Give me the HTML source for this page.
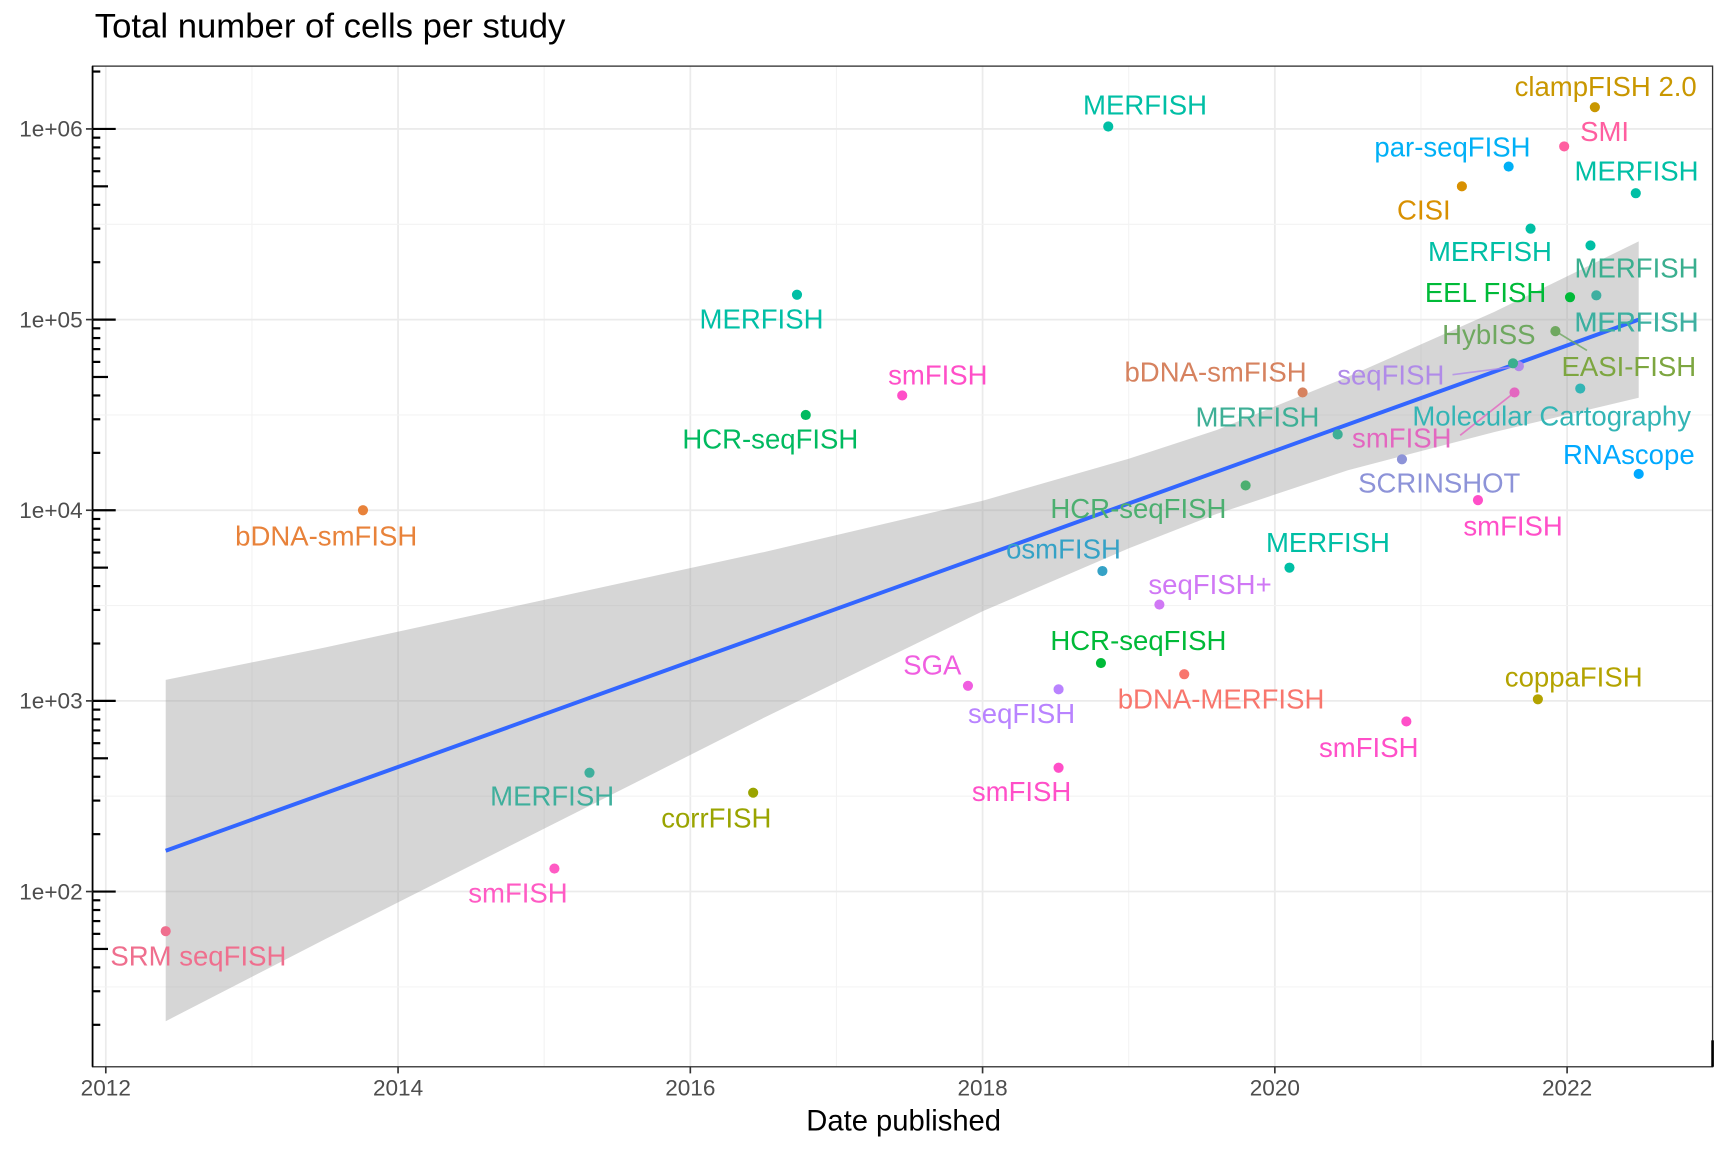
<!DOCTYPE html>
<html><head><meta charset="utf-8"><style>
html,body{margin:0;padding:0;background:#fff}
svg{display:block;font-family:"Liberation Sans",Arial,sans-serif}
</style></head><body>
<svg id="chart" width="1728" height="1152" viewBox="0 0 1568 1045.33" xmlns="http://www.w3.org/2000/svg">
<rect width="1568" height="1045.33" fill="#fff"/>
<text x="86" y="34" font-size="31.5" fill="#000">Total number of cells per study</text>
<g id="grid"></g>
<g id="band"></g>
<g id="segs"></g>
<g id="pts"></g>
<g id="labs"></g>
<g id="axes"></g>
<text x="820" y="1026" font-size="26.5" text-anchor="middle" fill="#000">Date published</text>
</svg>
<script>
// ---- data ----
const methods = ["SRM seqFISH","bDNA-smFISH","smFISH","MERFISH","corrFISH","MERFISH","HCR-seqFISH","smFISH","SGA","smFISH","seqFISH","HCR-seqFISH","osmFISH","MERFISH","seqFISH+","bDNA-MERFISH","HCR-seqFISH","MERFISH","bDNA-smFISH","MERFISH","SCRINSHOT","smFISH","smFISH","CISI","par-seqFISH","MERFISH","seqFISH","MERFISH","smFISH","HybISS","EEL FISH","SMI","clampFISH 2.0","MERFISH","MERFISH","MERFISH","Molecular Cartography","RNAscope","coppaFISH"];
const years = [2012.41,2013.76,2015.07,2015.31,2016.43,2016.73,2016.79,2017.45,2017.90,2018.52,2018.52,2018.81,2018.82,2018.86,2019.21,2019.38,2019.80,2020.10,2020.19,2020.43,2020.87,2020.90,2021.39,2021.28,2021.60,2021.75,2021.67,2021.63,2021.64,2021.92,2022.02,2021.98,2022.19,2022.47,2022.16,2022.20,2022.09,2022.49,2021.80];
const cells = [62,10000,132,420,330,135000,31600,40000,1200,446,1150,1580,4800,1030000,3200,1380,13500,5000,41500,25000,18500,780,11300,500000,635000,300000,57000,59000,41500,87000,131000,810000,1300000,460000,245000,134000,43500,15500,1020];
const colors = ["#EF6F8E","#E8823A","#FF5BC4","#3FAF9C","#9AA400","#00BFA5","#00BA5F","#FF4FC8","#F05EE0","#FF4FC8","#B983FF","#00BA38","#35A2C6","#00BFA5","#D078F5","#F8766D","#4CAF70","#00BFA5","#D6825F","#3EAF96","#8D93D8","#FF4FC8","#FF4FC8","#D89000","#00B0F6","#00BFA5","#B08BE8","#3AAF8F","#E367C0","#6FA860","#00BA38","#FF5EA0","#C99700","#00BFA5","#00BFA5","#3EAFA0","#33B5B5","#00A9FF","#B3A300"];
const ribbonYears = [2012.41,2013.5,2015,2016.5,2018,2019,2019.6,2020.5,2021.5,2022.49];
const ribbonUpperLog = [3.11,3.28,3.53,3.78,4.05,4.27,4.42,4.70,5.04,5.41];
const ribbonLowerLog = [1.32,1.75,2.33,2.91,3.47,3.80,3.98,4.21,4.41,4.59];
const fitYears = [2012.41,2022.49];
const fitLog = [2.214,5.0];
const xTicks = [2012,2014,2016,2018,2020,2022];
const yTicks = [2,3,4,5,6];
const yTickLabels = ["1e+02","1e+03","1e+04","1e+05","1e+06"];

// ---- scales ----
const L=84,R=1554,T=60,B=968;
const X=y=>96+(y-2012)*132.6;
const YL=l=>117+(6-l)*173;
const Y=v=>YL(Math.log10(v));
const NS="http://www.w3.org/2000/svg";
function mk(tag,attrs,parent){const e=document.createElementNS(NS,tag);for(const k in attrs)e.setAttribute(k,attrs[k]);parent.appendChild(e);return e;}

const labelPos = [[180,867],[296,486],[470,810],[501,722],[650,742],[691,289],[699,398],[851,340],[846,603],[927,718],[927,647],[1033,581],[965,498],[1039,95],[1098,530],[1108,634],[1033,461],[1205,492],[1103,337],[1141,378],[1306,438],[1242,678],[1373,477],[1292,190],[1318,133],[1352,228],[1262,340],[1485,243],[1272,397],[1351,303],[1348,265],[1456,119],[1457,78],[1485,155],[1485,292],[1485,292],[1408,377],[1478,412],[1428,614]];

// ---- grid ----
const grid=document.getElementById('grid');
mk('rect',{x:L,y:T,width:R-L,height:B-T,fill:'#fff'},grid);
for(let yr=2012;yr<=2022;yr++){const l=mk('line',{x1:X(yr),x2:X(yr),y1:T,y2:B,stroke:yr%2?'#f3f3f3':'#ebebeb','stroke-width':yr%2?1:1.6},grid);

}
for(let k=1.5;k<=6.5;k+=0.5){const yy=YL(k);if(yy<T||yy>B)continue;const major=Number.isInteger(k);const l=mk('line',{x1:L,x2:R,y1:yy,y2:yy,stroke:major?'#ebebeb':'#f3f3f3','stroke-width':major?1.6:1},grid);

}

// ---- ribbon + fit ----
const band=document.getElementById('band');
let d='M'+ribbonYears.map((t,i)=>X(t)+','+YL(ribbonUpperLog[i])).join('L');
for(let i=ribbonYears.length-1;i>=0;i--)d+='L'+X(ribbonYears[i])+','+YL(ribbonLowerLog[i]);
const rb=mk('path',{d:d+'Z',fill:'#999','fill-opacity':0.4},band);


const fl=mk('line',{x1:X(fitYears[0]),y1:YL(fitLog[0]),x2:X(fitYears[1]),y2:YL(fitLog[1]),stroke:'#3366FF','stroke-width':3.6},band);



// ---- segments ----
const segs=document.getElementById('segs');
[[26,1318,340],[28,1325,395],[29,1440,318]].forEach(s=>{const i=s[0];const l=mk('line',{x1:X(years[i]),y1:Y(cells[i]),x2:s[1],y2:s[2],stroke:colors[i],'stroke-width':1.5,'stroke-opacity':0.8},segs);

});

// ---- points & labels ----
const pts=document.getElementById('pts'),labs=document.getElementById('labs');
methods.forEach((m,i)=>{
 const c=mk('circle',{cx:X(years[i]),cy:Y(cells[i]),r:4.6,fill:colors[i]},pts);
 
 
 const t=mk('text',{x:labelPos[i][0],y:labelPos[i][1]+9,'font-size':25,'text-anchor':'middle',fill:colors[i]},labs);
 t.textContent=m;
 
 
});
const ex=mk('text',{x:1478,y:341,'font-size':25,'text-anchor':'middle',fill:'#7DA640'},labs);
ex.textContent='EASI-FISH';



// ---- axes ----
const ax=document.getElementById('axes');
mk('rect',{x:L,y:T,width:R-L,height:B-T,fill:'none',stroke:'#333','stroke-width':1.2},ax);
mk('line',{x1:L,x2:L,y1:T,y2:B,stroke:'#000','stroke-width':1.6},ax);
for(let e=1;e<=6;e++)for(let m=1;m<=9;m++){const yy=YL(e+Math.log10(m));if(yy<T+2||yy>B-2)continue;const len=m==1?21:(m==5?14:7);
 const l=mk('line',{x1:L,x2:L+len,y1:yy,y2:yy,stroke:'#000','stroke-width':2},ax);
 
 }
mk('line',{x1:R,x2:R,y1:B-24,y2:B,stroke:'#000','stroke-width':2.4},ax);
yTicks.forEach((k,i)=>{const yy=YL(k);
 mk('line',{x1:L-6,x2:L,y1:yy,y2:yy,stroke:'#333','stroke-width':1.5},ax);
 const t=mk('text',{x:L-9,y:yy+7,'font-size':20.5,'text-anchor':'end',fill:'#4d4d4d'},ax);
 t.textContent=yTickLabels[i];
 
 });
xTicks.forEach(yr=>{const xx=X(yr);
 mk('line',{x1:xx,x2:xx,y1:B,y2:B+6,stroke:'#333','stroke-width':1.5},ax);
 const t=mk('text',{x:xx,y:B+26,'font-size':20.5,'text-anchor':'middle',fill:'#4d4d4d'},ax);
 t.textContent=String(yr);
 
 });
</script>
</body></html>
